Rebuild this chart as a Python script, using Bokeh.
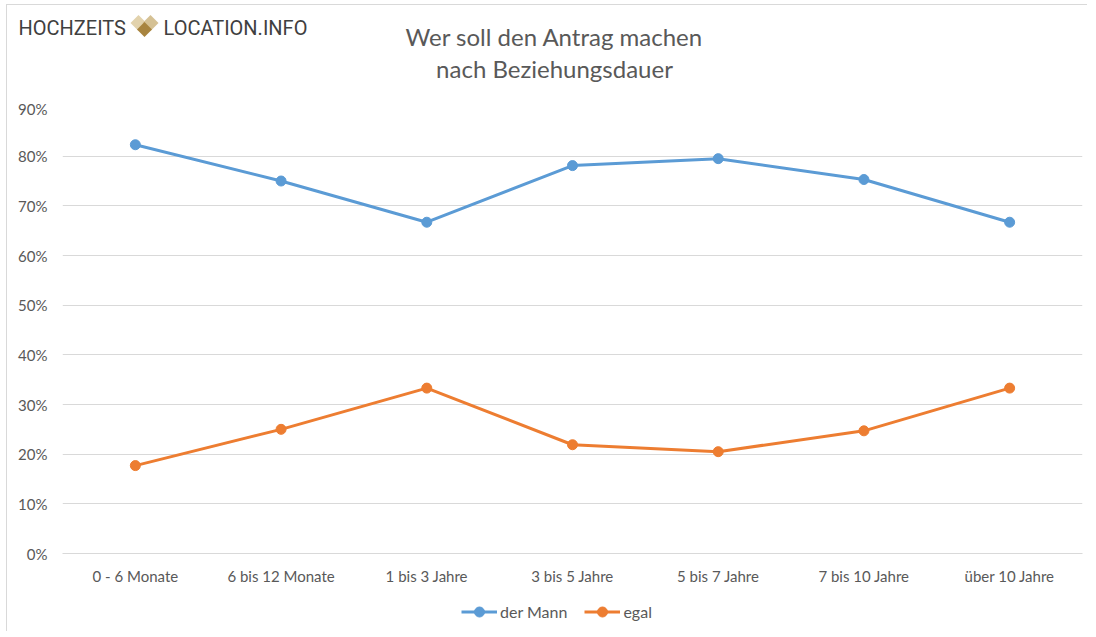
from bokeh.plotting import figure
from bokeh.layouts import column
from bokeh.models import Legend, LegendItem, FixedTicker, NumeralTickFormatter
from bokeh.core.properties import value
from bokeh.embed import file_html
from bokeh.resources import INLINE

categories = ["0 - 6 Monate", "6 bis 12 Monate", "1 bis 3 Jahre", "3 bis 5 Jahre",
              "5 bis 7 Jahre", "7 bis 10 Jahre", "über 10 Jahre"]
der_mann = [0.823, 0.750, 0.667, 0.781, 0.795, 0.753, 0.667]
egal = [0.177, 0.250, 0.333, 0.219, 0.205, 0.247, 0.333]
series_names = ["der Mann", "egal"]
y_ticks = [0.0, 0.1, 0.2, 0.3, 0.4, 0.5, 0.6, 0.7, 0.8, 0.9]
title_lines = ["Wer soll den Antrag machen", "nach Beziehungsdauer"]
logo_words = ["HOCHZEITS", "LOCATION.INFO"]

FONT = "Lato"
GREY = "#595959"
BLUE = "#5b9bd5"
ORANGE = "#ed7d31"

W = 1080
HH = 94
FH = 38

# ---------------- header (logo + title) ----------------
h = figure(x_range=(0, W), y_range=(HH, 0), width=W, height=HH,
           min_border=0, x_axis_type=None, y_axis_type=None,
           output_backend="svg", toolbar_location=None)
h.frame_align = False
h.outline_line_color = None
h.grid.visible = False

h.text(x=[547, 547], y=[31, 63], text=title_lines, text_align="center",
       text_baseline="middle", text_font=value(FONT), text_font_size="24px",
       text_color=GREY)
h.text(x=[11, 156], y=[22, 22], text=logo_words, text_align="left",
       text_baseline="middle", text_font=value("Roboto"), text_font_size="20px",
       text_color="#404040")

def diamond(cx, cy, r):
    return [cx - r, cx, cx + r, cx], [cy, cy - r, cy, cy + r]

dl = diamond(131.0, 17.5, 8)
dr = diamond(143.0, 17.5, 8)
db = diamond(137.0, 24.0, 7.5)
h.patches(xs=[dl[0], dr[0], db[0]], ys=[dl[1], dr[1], db[1]],
          fill_color=["#e2d2ac", "#d5c194", "#a8843f"], line_color=None)

# ---------------- main chart ----------------
p = figure(x_range=categories, y_range=(0, 0.9),
           frame_width=1020, frame_height=447,
           min_border_left=55, min_border_right=5, min_border_top=7, min_border_bottom=40,
           output_backend="svg", toolbar_location=None)
p.outline_line_color = None

p.xgrid.grid_line_color = None
p.ygrid.grid_line_color = "#d9d9d9"
p.ygrid.grid_line_width = 1

p.yaxis.ticker = FixedTicker(ticks=y_ticks)
p.yaxis.formatter = NumeralTickFormatter(format="0%")
p.yaxis.axis_line_color = None
p.yaxis.major_tick_line_color = None
p.yaxis.minor_tick_line_color = None
p.yaxis.major_tick_out = 0
p.yaxis.major_tick_in = 0
p.yaxis.major_label_text_font = FONT
p.yaxis.major_label_text_font_size = "15px"
p.yaxis.major_label_text_color = GREY
p.yaxis.major_label_standoff = 15

p.xaxis.axis_line_color = "#d9d9d9"
p.xaxis.major_tick_line_color = None
p.xaxis.minor_tick_line_color = None
p.xaxis.major_tick_out = 0
p.xaxis.major_tick_in = 0
p.xaxis.major_label_text_font = FONT
p.xaxis.major_label_text_font_size = "15px"
p.xaxis.major_label_text_color = GREY
p.xaxis.major_label_standoff = 13

p.line(categories, der_mann, line_color=BLUE, line_width=3)
p.scatter(categories, der_mann, size=10, fill_color=BLUE, line_color=BLUE)
p.line(categories, egal, line_color=ORANGE, line_width=3)
p.scatter(categories, egal, size=10, fill_color=ORANGE, line_color=ORANGE)

# ---------------- footer (legend) ----------------
f = figure(x_range=(0, 1), y_range=(0, 1), width=W, height=FH,
           min_border=0, x_axis_type=None, y_axis_type=None,
           output_backend="svg", toolbar_location=None)
f.frame_align = False
f.outline_line_color = None
f.grid.visible = False

# legend proxies: same styles as the chart series, placed outside the visible range
items = []
for name, color in zip(series_names, [BLUE, ORANGE]):
    lr = f.line([5, 6], [5, 6], line_color=color, line_width=3)
    sr = f.scatter([5], [5], size=10, fill_color=color, line_color=color)
    items.append(LegendItem(label=name, renderers=[lr, sr]))

legend = Legend(items=items, orientation="horizontal", location=(454, 7),
                label_text_font=FONT, label_text_font_size="16px", label_text_color=GREY,
                glyph_width=36, glyph_height=25, spacing=17, padding=0, margin=0,
                label_standoff=3, background_fill_alpha=0, border_line_color=None)
f.add_layout(legend, "center")

layout = column(h, p, f, spacing=0, margin=(4, 0, 0, 6),
                styles={"border-left": "1px solid #d9d9d9", "border-top": "1px solid #d9d9d9"})

open("out.html", "w").write(file_html(layout, INLINE))
